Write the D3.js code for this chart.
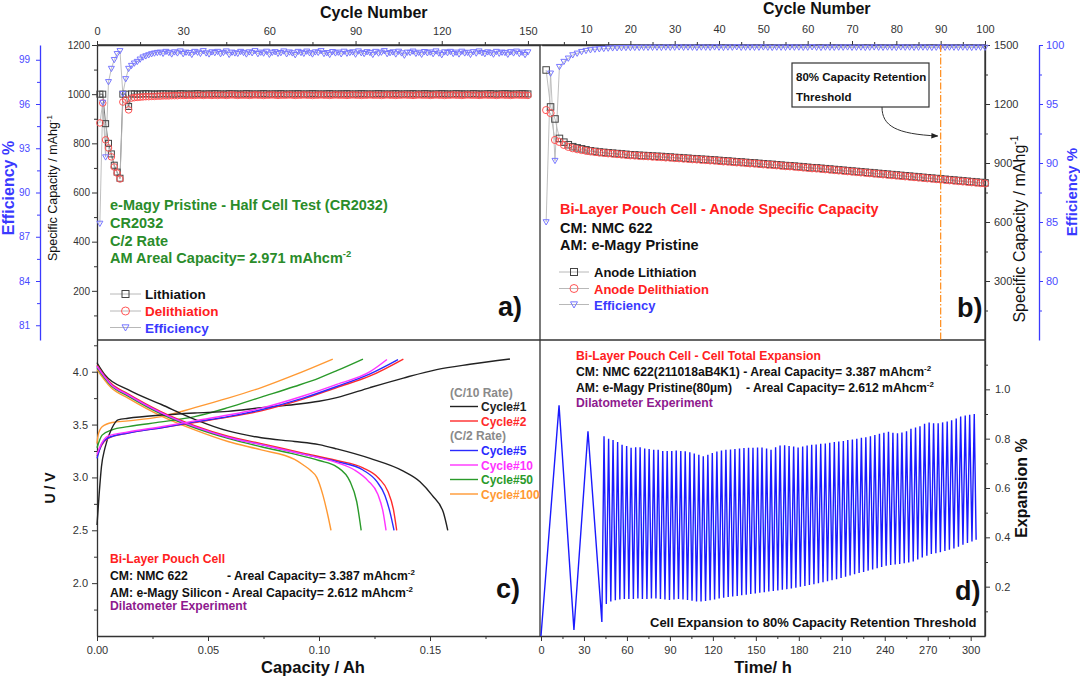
<!DOCTYPE html>
<html><head><meta charset="utf-8">
<script src="https://cdn.jsdelivr.net/npm/d3@7"></script>
<style>
body{margin:0;background:#fff}
svg{display:block}
text{font-family:"Liberation Sans",Arial,Helvetica,sans-serif}
</style></head>
<body><svg id="c" width="1080" height="680"></svg>
<script>
// ---------------- DATA ----------------
// Panel a (half cell, 150 cycles)
const aLith = [1000,1000,880,800,757,711,683,658,1000,1000,950,
1001,1001,1000,1001,1001,1002,1001,1001,1000,1001,
1001,1002,1001,1001,1001,1000,1001,1002,1001,1001,
1000,1001,1001,1002,1001,1000,1001,1001,1001,1002,
1001,1001,1000,1001,1002,1001,1001,1001,1000,1001,
1002,1001,1001,1000,1001,1001,1002,1001,1000,1001,
1001,1001,1002,1001,1000,1001,1001,1001,1002,1001,
1000,1001,1001,1002,1001,1001,1000,1001,1001,1002,
1001,1000,1001,1001,1001,1002,1001,1000,1001,1001,
1002,1001,1001,1000,1001,1001,1002,1001,1001,1000,
1001,1001,1002,1001,1000,1001,1001,1001,1002,1001,
1000,1001,1002,1001,1001,1000,1001,1001,1002,1001,
1001,1000,1001,1002,1001,1001,1001,1000,1001,1002,
1001,1001,1000,1001,1001,1002,1001,1000,1001,1001,
1002,1001,1001,1000,1001,1001,1002,1001,1001];
const aDelith = [883,964,814,781,745,704,679,655,968,976,936,
984,986,987,988,989,990,990,991,991,992,992,993,993,993,994,994,994,995,995,
995,996,995,995,996,996,995,996,996,995,
996,995,996,996,995,996,997,996,995,996,
996,996,995,996,997,996,996,995,996,996,
997,996,995,996,996,996,997,996,995,996,
996,997,996,996,995,996,996,997,996,996,
995,996,997,996,996,996,995,996,997,996,
996,995,996,996,997,996,996,996,995,996,
997,996,996,995,996,996,997,996,996,995,
996,997,996,996,996,995,996,997,996,996,
995,996,996,997,996,996,995,996,997,996,
996,996,995,996,997,996,996,996,995,996,
997,996,996,995,996,997,996,996,996,995];
const aEff = [87.9,96.1,92.4,97.5,98.4,99.0,99.4,99.6,96.7,97.7,98.4,
98.6,98.76,98.87,99.03,99.17,99.25,99.32,99.39,99.44,99.48,
99.50,99.42,99.55,99.48,99.38,99.52,99.45,99.58,99.40,99.50,
99.47,99.35,99.55,99.50,99.42,99.60,99.45,99.38,99.52,99.47,
99.55,99.40,99.48,99.58,99.35,99.50,99.45,99.42,99.55,99.48,
99.38,99.52,99.46,99.60,99.40,99.50,99.44,99.56,99.36,99.49,
99.53,99.42,99.47,99.58,99.39,99.51,99.45,99.33,99.55,99.48,
99.42,99.57,99.46,99.38,99.52,99.49,99.60,99.41,99.47,99.35,
99.54,99.45,99.50,99.39,99.56,99.43,99.48,99.52,99.37,99.58,
99.46,99.41,99.53,99.48,99.35,99.55,99.44,99.50,99.60,99.40,
99.47,99.52,99.38,99.56,99.45,99.30,99.50,99.48,99.57,99.42,
99.49,99.36,99.54,99.46,99.51,99.40,99.58,99.44,99.33,99.52,
99.47,99.55,99.41,99.50,99.38,99.56,99.45,99.49,99.35,99.53,
99.44,99.58,99.47,99.40,99.52,99.46,99.37,99.55,99.43,99.50,
99.48,99.36,99.53,99.45,99.57,99.41,99.50,99.34,99.52];
const aCycleTicks = [0,30,60,90,120,150];
const aCapTicks = [200,400,600,800,1000,1200];
const aEffTicks = [81,84,87,90,93,96,99];

// Panel b (pouch cell anode, 100 cycles)
const bLith = [1373,1185,1124,1025,1006,993,983,977,972,967,
962,959,956,954,952,950,948,946,944,942,
941,939,938,937,935,934,933,931,930,928,
927,925,924,922,921,919,918,916,915,913,
911,910,908,906,905,903,901,900,898,896,
894,893,891,889,887,886,884,882,880,878,
876,875,873,871,869,867,865,863,861,859,
857,855,853,851,849,847,845,843,841,839,
837,835,833,831,829,827,825,823,821,819,
817,815,813,811,809,807,805,803,801,799];
const bDelith = [1169,1154,1017,1007,992,982,975,970,966,962,
959,956,953,951,949,947,945,943,941,939,
938,936,935,934,932,931,930,928,927,925,
924,922,921,919,918,916,915,913,912,910,
908,907,905,903,902,900,898,897,895,893,
891,890,888,886,884,883,881,879,877,875,
873,872,870,868,866,864,862,860,858,856,
854,852,850,848,846,844,842,840,838,836,
834,832,830,828,826,824,822,820,818,816,
814,812,810,808,806,804,802,800,798,796];
const bEff = [85.0,97.6,90.2,98.16,98.59,98.87,99.15,99.29,99.43,99.52,99.58,99.63,99.66,99.69,99.72,
99.74,99.75,99.76,99.77,99.77,99.78,99.78,99.79,99.79,99.79,
99.80,99.78,99.81,99.79,99.80,99.82,99.79,99.81,99.80,99.78,
99.81,99.80,99.79,99.82,99.80,99.78,99.81,99.80,99.83,99.79,
99.80,99.81,99.79,99.80,99.82,99.80,99.78,99.81,99.80,99.79,
99.82,99.80,99.81,99.79,99.80,99.83,99.80,99.78,99.81,99.80,
99.79,99.81,99.80,99.82,99.79,99.80,99.81,99.78,99.80,99.82,
99.80,99.79,99.81,99.80,99.78,99.82,99.80,99.81,99.79,99.80,
99.81,99.80,99.78,99.80,99.82,99.79,99.81,99.80,99.79,99.81,
99.80,99.78,99.81,99.80,99.79];
const bThresholdCycle = 90;
const bCycleTicks = [10,20,30,40,50,60,70,80,90,100];
const bCapTicks = [300,600,900,1200,1500];
const bEffTicks = [80,85,90,95,100];

// Panel c (voltage profiles) : [capacity Ah, voltage V]
const c1Charge = [[0,2.55],[0.001,2.85],[0.002,3.1],[0.0036,3.28],[0.0068,3.47],[0.0095,3.545],[0.014,3.56],[0.029,3.59],[0.044,3.61],[0.059,3.625],[0.074,3.66],[0.089,3.69],[0.1,3.72],[0.108,3.755],[0.123,3.85],[0.138,3.94],[0.153,4.02],[0.168,4.07],[0.186,4.12]];
const c1Dis = [[0,4.085],[0.0036,3.97],[0.014,3.83],[0.029,3.69],[0.044,3.55],[0.059,3.44],[0.074,3.375],[0.089,3.34],[0.1,3.31],[0.108,3.27],[0.123,3.18],[0.138,3.06],[0.1455,2.96],[0.151,2.83],[0.156,2.67],[0.158,2.5]];
const c2Charge = [[0,3.2],[0.002,3.3],[0.005,3.37],[0.014,3.42],[0.029,3.47],[0.044,3.52],[0.059,3.57],[0.074,3.63],[0.0928,3.74],[0.108,3.85],[0.123,3.96],[0.138,4.12]];
const c2Dis = [[0,4.06],[0.0063,3.89],[0.014,3.79],[0.029,3.62],[0.044,3.49],[0.059,3.39],[0.074,3.32],[0.0928,3.23],[0.108,3.16],[0.1198,3.09],[0.127,2.99],[0.131,2.87],[0.1335,2.7],[0.135,2.5]];
const c5Charge = [[0,3.18],[0.002,3.31],[0.005,3.375],[0.014,3.42],[0.029,3.47],[0.044,3.525],[0.059,3.575],[0.074,3.64],[0.0928,3.75],[0.108,3.86],[0.123,3.98],[0.1356,4.115]];
const c5Dis = [[0,4.05],[0.0063,3.88],[0.014,3.78],[0.029,3.61],[0.044,3.48],[0.059,3.38],[0.074,3.31],[0.0928,3.22],[0.108,3.15],[0.1198,3.07],[0.1261,2.96],[0.1297,2.83],[0.132,2.67],[0.1338,2.5]];
const c10Charge = [[0,3.22],[0.002,3.32],[0.005,3.39],[0.014,3.43],[0.029,3.48],[0.044,3.535],[0.059,3.59],[0.074,3.655],[0.0928,3.77],[0.108,3.88],[0.123,4.0],[0.1306,4.115]];
const c10Dis = [[0,4.05],[0.0063,3.88],[0.014,3.78],[0.029,3.61],[0.044,3.48],[0.059,3.38],[0.074,3.31],[0.0928,3.22],[0.108,3.14],[0.116,3.07],[0.122,2.97],[0.1265,2.84],[0.1288,2.68],[0.1302,2.5]];
const c50Charge = [[0,3.28],[0.0023,3.4],[0.0068,3.45],[0.014,3.48],[0.029,3.525],[0.044,3.575],[0.059,3.66],[0.074,3.76],[0.089,3.86],[0.1,3.94],[0.108,4.01],[0.1198,4.12]];
const c50Dis = [[0,4.04],[0.0063,3.87],[0.014,3.77],[0.029,3.6],[0.044,3.47],[0.059,3.37],[0.074,3.29],[0.089,3.22],[0.1,3.16],[0.108,3.1],[0.114,2.96],[0.117,2.77],[0.119,2.5]];
const c100Charge = [[0,3.32],[0.0005,3.4],[0.0023,3.48],[0.0068,3.52],[0.014,3.535],[0.029,3.575],[0.044,3.66],[0.059,3.75],[0.074,3.85],[0.089,3.97],[0.1062,4.12]];
const c100Dis = [[0,4.02],[0.0063,3.85],[0.014,3.75],[0.029,3.58],[0.044,3.45],[0.059,3.34],[0.074,3.26],[0.089,3.17],[0.0928,3.12],[0.096,3.07],[0.099,3.0],[0.1018,2.83],[0.104,2.64],[0.1054,2.5]];
const cNames = ['Cycle#1','Cycle#2','Cycle#5','Cycle#10','Cycle#50','Cycle#100'];
const cXTicks = [0,0.05,0.10,0.15];
const cYTicks = [2.0,2.5,3.0,3.5,4.0];

// Panel d (expansion vs time)
const dFormT = [0,12.6,23.0,32.8,42.5];
const dFormV = [0,0.935,0.025,0.83,0.057];
const dPeakT = [44.0,47.2,50.3,53.5,56.6,59.8,62.9,66.1,69.2,72.4,
75.5,78.7,81.8,85.0,88.1,91.3,94.4,97.6,100.7,103.9,
107.0,110.2,113.3,116.5,119.6,122.8,126.0,129.1,132.3,135.4,
138.6,141.7,144.9,148.0,151.2,154.3,157.5,160.6,163.8,166.9,
170.1,173.2,176.4,179.5,182.7,185.8,189.0,192.1,195.3,198.5,
201.6,204.8,207.9,211.1,214.2,217.4,220.5,223.7,226.8,230.0,
233.1,236.3,239.4,242.6,245.7,248.9,252.0,255.2,258.3,261.5,
264.6,267.8,271.0,274.1,277.3,280.4,283.6,286.7,289.9,293.0,
296.2,299.3,302.5];
const dPeak = [0.81,0.80,0.795,0.786,0.775,0.77,0.763,0.765,0.765,0.76,
0.758,0.755,0.755,0.75,0.75,0.75,0.752,0.75,0.749,0.745,
0.74,0.735,0.729,0.735,0.742,0.748,0.752,0.755,0.756,0.758,
0.76,0.762,0.763,0.763,0.764,0.764,0.76,0.755,0.765,0.772,
0.773,0.77,0.768,0.764,0.768,0.772,0.775,0.776,0.779,0.78,
0.783,0.786,0.788,0.79,0.795,0.797,0.8,0.804,0.806,0.81,
0.815,0.82,0.824,0.828,0.824,0.822,0.825,0.83,0.84,0.845,
0.85,0.86,0.865,0.862,0.862,0.866,0.87,0.875,0.882,0.89,
0.894,0.897,0.90];
const dTrough = [0.13,0.14,0.145,0.148,0.15,0.15,0.15,0.152,0.15,0.15,
0.152,0.152,0.15,0.148,0.146,0.148,0.15,0.148,0.146,0.143,
0.14,0.14,0.142,0.145,0.148,0.152,0.155,0.158,0.16,0.162,
0.165,0.167,0.17,0.172,0.175,0.177,0.18,0.182,0.185,0.188,
0.19,0.193,0.196,0.2,0.203,0.207,0.21,0.214,0.218,0.222,
0.226,0.23,0.235,0.24,0.245,0.25,0.255,0.26,0.265,0.27,
0.275,0.28,0.285,0.288,0.29,0.292,0.295,0.298,0.302,0.31,
0.318,0.325,0.332,0.336,0.34,0.345,0.35,0.355,0.362,0.37,
0.377,0.383,0.39];
const dXTicks = [0,30,60,90,120,150,180,210,240,270,300];
const dYTicks = [0.2,0.4,0.6,0.8,1.0];

// ---------------- STYLE ----------------
const C = {axis:'#333', tick:'#333', blue:'#3a3aff', blueTxt:'#4a4aff', red:'#ff2020', green:'#2a8c2a', purple:'#8e1a8e',
  sq:'#444', circ:'#ff5555', tri:'#7777ff', conn:'#b8b8b8', connDark:'#666', orange:'#ff8c1a'};
const cColors = ['#222','#ff2a2a','#2a2aff','#ff33ff','#2a9a2a','#ff9933'];

const svg = d3.select('#c');
const T = {L:97, M:541, R:985, top:45, mid:340, bot:636};

// scales
const axX = d3.scaleLinear([0,154.2],[T.L,T.M-1]);
const ayC = d3.scaleLinear([0,1200],[T.mid,T.top]);
const ayE = d3.scaleLinear([80,100],[T.mid,T.top]);
const bxX = d3.scaleLinear([0,100],[T.M+0.7,T.R]);
const byC = d3.scaleLinear([0,1500],[T.mid,T.top]);
const byE = d3.scaleLinear([75,100],[T.mid,T.top]);
const cxX = d3.scaleLinear([0,0.2],[T.L,T.M]);
const cyV = d3.scaleLinear([1.5,4.3],[T.bot,T.mid]);
const dxX = d3.scaleLinear([0,310],[T.M,T.R]);
const dyV = d3.scaleLinear([0,1.2],[T.bot,T.mid]);

function mid(arr){const o=[];for(let i=0;i<arr.length-1;i++)o.push((arr[i]+arr[i+1])/2);return o;}

function drawAxis(kind, scale, tx, ty, major, minor, fmt, opt={}) {
  const gen = {left:d3.axisLeft, right:d3.axisRight, top:d3.axisTop, bottom:d3.axisBottom}[kind];
  const col = opt.color || C.axis, tcol = opt.textColor || C.tick;
  const g = svg.append('g').attr('transform',`translate(${tx},${ty})`);
  g.call(gen(scale).tickValues(major).tickSize(opt.size||5).tickSizeOuter(0).tickPadding(opt.pad||3).tickFormat(fmt));
  const gm = g.append('g').call(gen(scale).tickValues(minor).tickSize(3).tickSizeOuter(0).tickFormat(''));
  gm.select('.domain').remove();
  g.selectAll('path.domain').attr('stroke',col).attr('stroke-width',1.3);
  g.selectAll('.tick line').attr('stroke',col).attr('stroke-width',1);
  g.selectAll('.tick text').attr('fill',tcol).attr('font-size',opt.fs||11)
    .attr('font-family','"Liberation Sans",Arial,sans-serif');
  return g;
}

function line(x1,y1,x2,y2,col,w){svg.append('line').attr('x1',x1).attr('y1',y1).attr('x2',x2).attr('y2',y2).attr('stroke',col||C.axis).attr('stroke-width',w||1.3);}

function text(x,y,str,o={}) {
  const t = svg.append('text').attr('x',x).attr('y',y).attr('font-size',o.fs||12)
    .attr('font-weight',o.w||'bold').attr('fill',o.c||'#111').attr('text-anchor',o.a||'start');
  if (o.rot) t.attr('transform',`rotate(${o.rot},${x},${y})`);
  t.append('tspan').text(str);
  if (o.sup) t.append('tspan').attr('dy',-(o.fs||12)*0.42).attr('font-size',(o.fs||12)*0.65).text(o.sup);
  return t;
}

// ---------- Frames ----------
line(T.L,T.top,T.M,T.top); line(T.M,T.top,T.R,T.top);
line(T.L,T.mid,T.R,T.mid);
line(T.M-1,T.top,T.M-1,T.bot);
line(T.R,T.top,T.R,T.bot);

// ---------- Panel a ----------
drawAxis('top', axX, 0, T.top, aCycleTicks, [15,45,75,105,135], d3.format('d'), {size:4,pad:6});
drawAxis('left', ayC, T.L, 0, aCapTicks, [100,300,500,700,900,1100], d3.format('d'), {size:5,pad:2,fs:10});
drawAxis('left', ayE, 40, 0, aEffTicks, [82.5,85.5,88.5,91.5,94.5,97.5], d3.format('d'), {size:4,pad:6,fs:10,color:C.blue,textColor:C.blueTxt});

function series(xs, ys, vals, lineCol, lw) {
  const pts = vals.map((v,i)=>[xs(i+1), ys(v)]);
  svg.append('path').attr('d',d3.line()(pts)).attr('fill','none').attr('stroke',lineCol).attr('stroke-width',lw||0.9);
  return pts;
}
function squares(pts, s, col){svg.append('g').selectAll('rect').data(pts).join('rect')
  .attr('x',d=>d[0]-s/2).attr('y',d=>d[1]-s/2).attr('width',s).attr('height',s).attr('fill','none').attr('stroke',col).attr('stroke-width',1);}
function circles(pts, r, col){svg.append('g').selectAll('circle').data(pts).join('circle')
  .attr('cx',d=>d[0]).attr('cy',d=>d[1]).attr('r',r).attr('fill','none').attr('stroke',col).attr('stroke-width',1);}
function tris(pts, s, col){svg.append('g').selectAll('path').data(pts).join('path')
  .attr('d',d=>`M${d[0]-s/2},${d[1]-s*0.38}L${d[0]+s/2},${d[1]-s*0.38}L${d[0]},${d[1]+s*0.5}Z`).attr('fill','none').attr('stroke',col).attr('stroke-width',1);}

const aL = series(axX, ayC, aLith, C.connDark, 0.9);
const aD = series(axX, ayC, aDelith, C.conn, 0.9);
const aE = series(axX, ayE, aEff, C.conn, 0.9);
squares(aL, 6, C.sq); circles(aD, 3.3, C.circ); tris(aE, 6, C.tri);

text(320,18,'Cycle Number',{fs:16});
text(57,188,'Specific Capacity / mAhg',{fs:12.5,w:'normal',a:'middle',rot:-90,sup:'-1',c:'#111'});
text(14,188,'Efficiency %',{fs:16,a:'middle',rot:-90,c:C.blue});
text(110,210,'e-Magy Pristine  - Half Cell Test (CR2032)',{fs:14.5,c:C.green});
text(110,228,'CR2032',{fs:14.5,c:C.green});
text(110,246,'C/2 Rate',{fs:14.5,c:C.green});
text(110,263,'AM Areal Capacity= 2.971 mAhcm',{fs:14.5,c:C.green,sup:'-2'});
// legend a
const legA = [['Lithiation','#111',294,'sq'],['Delithiation',C.red,311,'ci'],['Efficiency',C.blue,327.5,'tr']];
legA.forEach(([s,c,y,k])=>{
  line(110,y,141,y,C.conn,1);
  if(k==='sq') squares([[125.5,y]],7,C.sq); else if(k==='ci') circles([[125.5,y]],4,C.circ); else tris([[125.5,y]],7,C.tri);
  text(145,y+5,s,{fs:13.5,c:c});
});
text(498,316,'a)',{fs:27});

// ---------- Panel b ----------
drawAxis('top', bxX, 0, T.top, bCycleTicks, [5,15,25,35,45,55,65,75,85,95], d3.format('d'), {size:4,pad:8});
drawAxis('right', byC, T.R, 0, bCapTicks, [150,450,750,1050,1350], d3.format('d'), {size:5,pad:4});
drawAxis('right', byE, 1039, 0, bEffTicks, [77.5,82.5,87.5,92.5,97.5], d3.format('d'), {size:4,pad:3,color:C.blue,textColor:C.blueTxt});
const bL = series(bxX, byC, bLith, C.conn, 0.9);
const bD = series(bxX, byC, bDelith, C.conn, 0.9);
const bE = series(bxX, byE, bEff, C.conn, 0.9);
squares(bL, 6.5, C.sq); circles(bD, 3.6, C.circ); tris(bE, 6, C.tri);
// threshold
svg.append('line').attr('x1',bxX(bThresholdCycle)).attr('x2',bxX(bThresholdCycle)).attr('y1',T.top).attr('y2',T.mid)
  .attr('stroke',C.orange).attr('stroke-width',1.2).attr('stroke-dasharray','7,2,1.5,2');
svg.append('rect').attr('x',792).attr('y',63).attr('width',137).attr('height',44).attr('fill','#fff').attr('stroke','#333').attr('stroke-width',1.2);
text(796,81,'80% Capacity Retention',{fs:11.5});
text(796,101,'Threshold',{fs:11.5});
svg.append('defs').append('marker').attr('id','ah').attr('viewBox','0 0 10 10').attr('refX',9).attr('refY',5)
  .attr('markerWidth',7).attr('markerHeight',7).attr('orient','auto').append('path').attr('d','M0,1L10,5L0,9Z').attr('fill','#222');
svg.append('path').attr('d',`M882,107 C882,126 896,134 ${bxX(bThresholdCycle)-3},136`).attr('fill','none').attr('stroke','#333').attr('stroke-width',1).attr('marker-end','url(#ah)');

text(763,14,'Cycle Number',{fs:16});
text(1025,229,'Specific Capacity / mAhg',{fs:16,w:'normal',a:'middle',rot:-90,sup:'-1'});
text(1077,192,'Efficiency %',{fs:15,a:'middle',rot:-90,c:C.blue});
text(560,214,'Bi-Layer Pouch Cell - Anode Specific Capacity',{fs:14.5,c:C.red});
text(560,233,'CM: NMC 622',{fs:14.5});
text(560,250,'AM: e-Magy Pristine',{fs:14.5});
const legB = [['Anode Lithiation','#111',272,'sq'],['Anode Delithiation',C.red,288.5,'ci'],['Efficiency',C.blue,304.5,'tr']];
legB.forEach(([s,c,y,k])=>{
  line(559,y,589,y,C.conn,1);
  if(k==='sq') squares([[574,y]],7,C.sq); else if(k==='ci') circles([[574,y]],4,C.circ); else tris([[574,y]],7,C.tri);
  text(594,y+5,s,{fs:13,c:c});
});
text(957,317,'b)',{fs:27});

// ---------- Panel c ----------
drawAxis('left', cyV, T.L, 0, cYTicks, [1.75,2.25,2.75,3.25,3.75,4.25], d3.format('.1f'), {size:5,pad:4});
drawAxis('bottom', cxX, 0, T.bot, cXTicks, [0.025,0.075,0.125,0.175], d3.format('.2f'), {size:5,pad:5});
const cLine = d3.line().x(d=>cxX(d[0])).y(d=>cyV(d[1])).curve(d3.curveMonotoneX);
const cCh = [c1Charge,c2Charge,c5Charge,c10Charge,c50Charge,c100Charge];
const cDi = [c1Dis,c2Dis,c5Dis,c10Dis,c50Dis,c100Dis];
[5,4,0,1,2,3].forEach(i=>{
  [cCh[i],cDi[i]].forEach(arr=>svg.append('path').attr('d',cLine(arr)).attr('fill','none').attr('stroke',cColors[i]).attr('stroke-width',1.4));
});
text(55,488,'U / V',{fs:14,a:'middle',rot:-90});
text(313,673,'Capacity / Ah',{fs:16.5,a:'middle'});
text(110,563,'Bi-Layer Pouch Cell',{fs:12.2,c:C.red});
text(110,580,'CM: NMC 622',{fs:12.2});
text(227,580,'- Areal Capacity= 3.387 mAhcm',{fs:12.2,sup:'-2'});
text(110,597,'AM: e-Magy Silicon - Areal Capacity= 2.612 mAhcm',{fs:12.2,sup:'-2'});
text(110,610,'Dilatometer Experiment',{fs:12.2,c:C.purple});
text(450,397,'(C/10 Rate)',{fs:12,c:'#8a8a8a'});
text(450,440,'(C/2 Rate)',{fs:12,c:'#8a8a8a'});
const cLegY = [406.5,421,450.5,465,479.5,494];
cNames.forEach((n,i)=>{
  line(450,cLegY[i],478,cLegY[i],cColors[i],1.4);
  text(481,cLegY[i]+4.5,n,{fs:12,c:cColors[i]});
});
text(496,598,'c)',{fs:27});

// ---------- Panel d ----------
drawAxis('bottom', dxX, 0, T.bot, dXTicks, [15,45,75,105,135,165,195,225,255,285], d3.format('d'), {size:5,pad:5});
drawAxis('right', dyV, T.R, 0, dYTicks, [0.1,0.3,0.5,0.7,0.9,1.1], d3.format('.1f'), {size:5,pad:5});
const dTroughT = mid(dPeakT).concat([dPeakT[dPeakT.length-1]+1.3]);
const dPts = dFormT.map((t,i)=>[t,dFormV[i]]);
dPeakT.forEach((t,i)=>{ dPts.push([t,dPeak[i]]); dPts.push([dTroughT[i],dTrough[i]]); });
svg.append('path').attr('d',d3.line().x(d=>dxX(d[0])).y(d=>dyV(d[1]))(dPts)).attr('fill','none').attr('stroke','#1a1aff').attr('stroke-width',1.4);
text(1027,488,'Expansion %',{fs:16,a:'middle',rot:-90});
text(763,673,'Time/ h',{fs:16.5,a:'middle'});
text(576,360,'Bi-Layer Pouch Cell - Cell Total Expansion',{fs:12.2,c:C.red});
text(576,376,'CM: NMC 622(211018aB4K1) - Areal Capacity= 3.387 mAhcm',{fs:12.2,sup:'-2'});
text(576,392,'AM: e-Magy Pristine(80µm)',{fs:12.2});
text(746,392,'- Areal Capacity= 2.612 mAhcm',{fs:12.2,sup:'-2'});
text(576,407,'Dilatometer Experiment',{fs:12.2,c:C.purple});
text(650,627,'Cell Expansion to 80% Capacity Retention Threshold',{fs:13});
text(955,600,'d)',{fs:27});
</script></body></html>
